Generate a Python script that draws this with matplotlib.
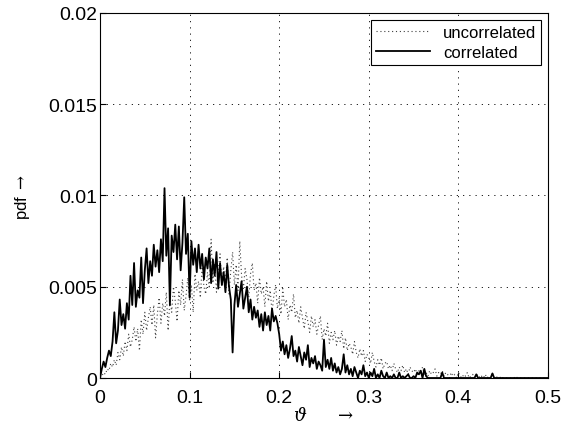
import numpy as np
import matplotlib
matplotlib.use("Agg")
import matplotlib.pyplot as plt

plt.rcParams['font.family'] = ['Liberation Sans', 'DejaVu Sans']
plt.rcParams['mathtext.fontset'] = 'dejavuserif'

# pdf values in units of 1e-3, theta step 0.002 from 0 to 0.5
correlated = [
    0.0, 0.5, 0.9, 0.6, 1.1, 1.5, 1.2, 2.0, 3.6, 1.9,
    2.6, 4.3, 2.9, 3.5, 2.7, 4.1, 3.2, 5.6, 4.0, 6.3,
    3.9, 4.8, 4.4, 6.6, 4.1, 5.9, 7.1, 5.2, 6.4, 5.6,
    7.3, 6.1, 7.0, 5.8, 7.6, 6.4, 10.4, 6.7, 8.2, 4.0,
    7.8, 6.9, 8.4, 6.5, 8.3, 5.9, 7.4, 9.9, 6.8, 7.9,
    4.4, 7.5, 6.2, 7.1, 5.8, 7.3, 6.0, 6.8, 5.4, 6.6,
    6.0, 7.1, 5.2, 6.5, 5.6, 6.9, 4.9, 6.3, 5.1, 5.8,
    4.7, 6.2, 5.0, 4.3, 1.4, 4.0, 5.1, 3.9, 4.6, 5.3,
    3.8, 4.4, 5.0, 3.6, 4.3, 3.2, 3.9, 3.3, 3.7, 2.8,
    3.5, 2.6, 3.6, 2.9, 3.4, 2.6, 3.8, 3.1, 3.4, 3.0,
    2.4, 1.5, 2.0, 1.3, 1.8, 1.1, 1.6, 2.3, 1.2, 1.5,
    0.9, 1.7, 1.2, 0.7, 1.4, 1.0, 1.8, 0.6, 1.1, 0.8,
    1.2, 0.5, 0.9, 0.7, 0.4, 2.1, 0.6, 1.0, 0.5, 1.1,
    0.4, 0.8, 0.3, 0.6, 0.2, 0.5, 1.3, 0.3, 0.7, 0.2,
    0.5, 0.1, 0.6, 0.3, 0.0, 0.4, 0.2, 0.7, 0.1, 0.3,
    0.0, 0.3, 0.1, 0.5, 0.0, 0.2, 0.0, 0.4, 0.1, 0.0,
    0.3, 0.0, 0.1, 0.0, 0.2, 0.0, 0.0, 0.3, 0.0, 0.1,
    0.0, 0.1, 0.2, 0.0, 0.0, 0.1, 0.0, 0.3, 0.2, 0.4,
    0.0, 0.5, 0.1, 0.0, 0.0, 0.0, 0.0, 0.0, 0.0, 0.0,
    0.0, 0.3, 0.0, 0.0, 0.0, 0.0, 0.0, 0.0, 0.0, 0.0,
    0.0, 0.0, 0.0, 0.0, 0.0, 0.0, 0.0, 0.0, 0.0, 0.0,
    0.2, 0.0, 0.0, 0.0, 0.0, 0.0, 0.0, 0.0, 0.0, 0.25,
    0.0, 0.0, 0.0, 0.0, 0.0, 0.0, 0.0, 0.0, 0.0, 0.0,
    0.0, 0.0, 0.0, 0.0, 0.0, 0.0, 0.0, 0.0, 0.0, 0.0,
    0.0, 0.0, 0.0, 0.0, 0.0, 0.0, 0.0, 0.0, 0.0, 0.0,
    0.0,
]

uncorrelated = [
    0.0, 0.1, 0.3, 0.2, 0.5, 0.4, 0.8, 0.6, 1.0, 0.7,
    1.4, 1.0, 1.7, 1.2, 2.0, 1.5, 2.4, 1.7, 2.1, 2.8,
    2.0, 2.7, 1.5, 3.2, 2.4, 3.6, 2.6, 3.3, 3.9, 2.9,
    4.0, 2.2, 3.5, 4.4, 3.0, 4.1, 3.4, 4.7, 2.6, 4.3,
    3.6, 5.0, 4.2, 3.1, 4.8, 4.0, 5.4, 3.7, 4.5, 5.5,
    4.2, 5.1, 3.6, 5.7, 4.8, 5.3, 4.4, 6.2, 5.0, 4.6,
    5.8, 4.9, 7.6, 5.2, 6.3, 4.7, 5.9, 6.8, 5.0, 6.1,
    5.3, 6.6, 4.6, 5.9, 6.9, 5.1, 6.2, 4.8, 7.5, 5.6,
    4.9, 6.0, 5.4, 4.4, 5.7, 6.3, 4.8, 5.2, 4.1, 5.5,
    4.6, 5.0, 3.9, 5.3, 4.2, 4.8, 3.6, 4.5, 5.1, 3.8,
    4.4, 3.5, 4.9, 3.9, 4.3, 3.2, 4.0, 3.6, 4.6, 3.3,
    3.7, 3.0, 3.9, 3.3, 2.7, 3.6, 3.1, 2.5, 3.4, 2.8,
    3.2, 2.4, 2.9, 3.4, 2.1, 2.7, 2.3, 3.0, 1.9, 2.5,
    2.1, 2.6, 1.8, 2.3, 2.0, 2.6, 1.6, 2.2, 1.5, 1.9,
    1.7, 1.3, 2.0, 1.4, 1.1, 1.6, 1.2, 1.5, 0.9, 1.3,
    1.1, 0.8, 1.4, 0.9, 0.6, 1.0, 0.7, 1.1, 0.5, 0.8,
    0.9, 0.5, 0.7, 0.4, 0.8, 0.5, 0.3, 0.6, 0.4, 0.7,
    0.3, 0.5, 0.2, 0.6, 0.4, 0.3, 0.5, 0.2, 0.4, 0.3,
    0.6, 0.2, 0.3, 0.1, 0.4, 0.2, 0.3, 0.5, 0.1, 0.3,
    0.2, 0.4, 0.1, 0.3, 0.2, 0.0, 0.3, 0.1, 0.2, 0.0,
    0.3, 0.1, 0.0, 0.2, 0.1, 0.3, 0.0, 0.1, 0.2, 0.0,
    0.1, 0.2, 0.0, 0.1, 0.0, 0.2, 0.0, 0.1, 0.0, 0.3,
    0.0, 0.1, 0.0, 0.0, 0.1, 0.0, 0.0, 0.0, 0.0, 0.0,
    0.0, 0.0, 0.1, 0.0, 0.0, 0.0, 0.0, 0.0, 0.0, 0.0,
    0.0, 0.0, 0.0, 0.0, 0.0, 0.0, 0.0, 0.0, 0.0, 0.0,
    0.0,
]

theta = np.arange(len(correlated)) * 0.002
corr = np.array(correlated) * 1e-3
uncorr = np.array(uncorrelated) * 1e-3

fig = plt.figure(figsize=(5.67, 4.27), dpi=100)
ax = fig.add_axes([0.1764, 0.1124, 0.79, 0.855])

ax.plot(theta, uncorr, linestyle=(0, (1, 2.5)), color='0.25', linewidth=0.8, label='uncorrelated')
ax.plot(theta, corr, '-', color='black', linewidth=1.3, label='correlated')

ax.set_xlim(0, 0.5)
ax.set_ylim(0, 0.02)
ax.set_xticks([0, 0.1, 0.2, 0.3, 0.4, 0.5])
ax.set_xticklabels(['0', '0.1', '0.2', '0.3', '0.4', '0.5'])
ax.set_yticks([0, 0.005, 0.01, 0.015, 0.02])
ax.set_yticklabels(['0', '0.005', '0.01', '0.015', '0.02'])
ax.tick_params(direction='in', labelsize=14, length=4)
ax.tick_params(axis='x', pad=8)
ax.tick_params(axis='y', pad=2)
ax.grid(True, linestyle=(0, (1.5, 6)), color='black', linewidth=0.6)

ax.set_xlabel(r'$\vartheta\quad\ \ \rightarrow$', fontsize=13, labelpad=0)
ax.set_ylabel(r'pdf $\rightarrow$', fontsize=12, labelpad=12)

leg = ax.legend(loc='upper right', fontsize=12, fancybox=False, framealpha=1,
                edgecolor='black', borderaxespad=0.4, handlelength=3.2,
                borderpad=0.3, labelspacing=0.3)
leg.get_frame().set_linewidth(0.8)

fig.savefig('out.png', dpi=100)
